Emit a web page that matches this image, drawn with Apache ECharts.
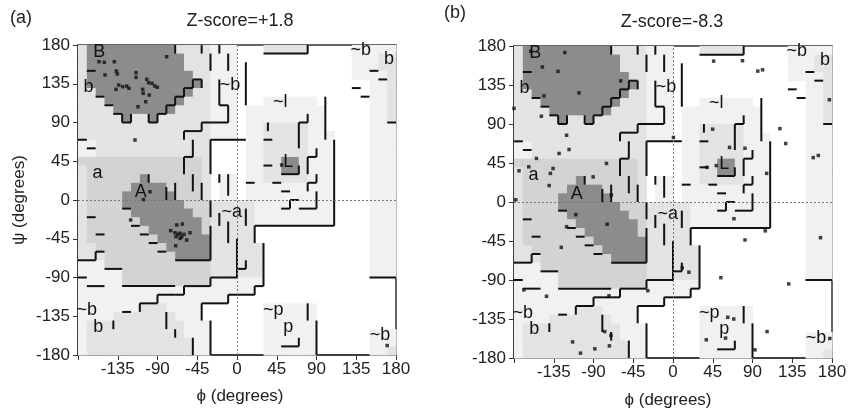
<!DOCTYPE html>
<html>
<head>
<meta charset="utf-8">
<script src="https://cdn.jsdelivr.net/npm/echarts@6/dist/echarts.min.js"></script>
<style>
  html, body { margin: 0; background: #fff; }
  #chart { width: 854px; height: 414px; }
</style>
</head>
<body>
<div id="chart"></div>
<script>
// Ramachandran region map, 10 degree cells.
// row 0 = psi 170..180 (top), col 0 = phi -180..-170
// 0 white, 1 generous, 2 allowed, 3 allowed (a), 4 core
var regionRows = [
  "244444444442222111000222220000011111",
  "244444444444222111000000000000011122",
  "244444444444222111000000000000011122",
  "244444444444422111000000000000011112",
  "244444444444442111000000000000000112",
  "224444444444422111000000000000000112",
  "222444444444222111000111111000000112",
  "222244444442222111011111111100000112",
  "222224224222222111011111111100000112",
  "222222222222222111011222221100000111",
  "222222222222222111011222221110000111",
  "112222222222222000011222221110000111",
  "112222222222222000011222221110000111",
  "333333333333332000011224421110000111",
  "233333333333332000011224421110000111",
  "233333343333332011011222221110000111",
  "233333444433332011011111111110000111",
  "233334444443332011011111111110000111",
  "233334444444333222221111111110000111",
  "233333444444433222221111111110000111",
  "233333344444443222221111111110000111",
  "233333334444443222220000000000000111",
  "233333333444444222220000000000000111",
  "223333333344444222222000000000000111",
  "222333333334444222222000000000000111",
  "111333333333333222222000000000000111",
  "111113333333333222222000000000000111",
  "111113333333333111111000000000000000",
  "111111111111111111110000000000000000",
  "111111111111111110000000000000000000",
  "111111122211110000000111111000000000",
  "111122222221110000000111111000000000",
  "122222222222111000000111111000000000",
  "122222222222111000000111111000000111",
  "122222222222211000000111111000000111",
  "122222222222211000000111111000000112"
];
var shades = ["#ffffff", "#f1f1f1", "#e3e3e3", "#d3d3d3", "#8c8c8c"];

// black contour segments [phi1, psi1, phi2, psi2]
var segments = [
  [-70,180,-70,170], [-40,180,-40,170], [-30,170,-30,150], [-20,180,-20,170], [-10,170,-10,150],
  [-170,150,-160,150], [-160,120,-150,120], [-150,110,-140,110], [-140,100,-130,100],
  [-130,100,-130,90], [-130,90,-120,90], [-120,90,-120,100],
  [-100,100,-100,90], [-100,90,-90,90], [-90,90,-90,100], [-90,100,-80,100], [-80,100,-80,110],
  [-80,110,-70,110], [-70,110,-70,120], [-70,120,-60,120], [-60,120,-60,130], [-60,130,-50,130],
  [-50,130,-50,140], [-50,140,-40,140], [-40,140,-40,130],
  [-20,140,-20,110], [-20,110,-10,110], [-10,110,-10,90], [-10,90,-40,90], [-40,90,-40,80],
  [-40,80,-60,80], [-60,80,-60,70],
  [-180,70,-170,70], [-170,60,-160,60],
  [-50,70,-50,50], [-60,50,-50,50], [-60,50,-60,30], [-50,30,-50,10],
  [-30,70,10,70], [-30,70,-30,30],
  [-100,30,-100,20], [-80,15,-80,0], [-70,20,-70,0], [-40,20,-40,0], [-20,30,-20,20], [-10,30,-10,5],
  [30,170,80,170], [80,180,80,170], [10,160,10,110], [35,90,35,80], [30,70,40,70],
  [70,90,80,90], [70,90,70,60], [80,100,80,90], [100,120,100,70], [110,70,110,-30],
  [30,40,40,40], [50,30,70,30], [70,40,70,30], [80,50,90,50], [80,50,80,30], [90,60,90,50],
  [10,20,20,20], [40,20,50,20], [50,10,60,10], [80,20,80,10], [80,20,90,20], [90,30,90,20],
  [90,10,90,-10], [50,-10,60,-10], [60,-10,60,0], [60,0,70,0], [70,-10,90,-10],
  [150,150,160,150], [160,140,170,140], [130,130,140,130], [140,120,150,120], [170,90,180,90],
  [20,-30,110,-30], [20,-30,20,-50], [30,-50,30,-100], [20,-100,30,-100], [20,-100,20,-110],
  [-10,-110,20,-110], [10,-10,10,-30], [0,-80,10,-80], [10,-80,10,-70], [0,-45,0,-80],
  [150,-90,180,-90], [80,-120,80,-140], [90,-140,90,-180], [50,-170,70,-170], [70,-160,70,-170],
  [-130,-10,-120,-10], [-170,-20,-160,-20], [-160,-40,-150,-40], [-120,-30,-110,-30], [-110,-40,-100,-40],
  [-100,-50,-90,-50], [-90,-60,-80,-60],
  [-70,-70,-30,-70], [-30,-30,-30,-70], [-30,0,-30,-20],
  [-180,-70,-160,-70], [-160,-70,-160,-60], [-160,-60,-150,-60], [-150,-80,-130,-80],
  [-180,-90,-170,-90], [-170,-100,-150,-100], [-130,-100,-70,-100],
  [-70,-110,-60,-110], [-60,-110,-60,-100], [-60,-100,-30,-100], [-30,-100,-30,-90], [-30,-90,0,-90], [0,-90,0,-80],
  [-40,-120,-10,-120], [-40,-120,-40,-140], [-10,-120,-10,-110],
  [-130,-130,-120,-130], [-110,-120,-90,-120], [-110,-120,-110,-130], [-90,-110,-90,-120], [-90,-110,-70,-110],
  [-140,-140,-140,-150], [-80,-130,-80,-150], [-70,-150,-70,-160], [-50,-160,-50,-180], [-30,-140,-30,-180],
  [-20,-15,-20,-30], [-10,-25,-10,-50]
];

// region labels [text, phi, psi]
var regionLabels = [
  ["B",-156,172], ["b",-168,131], ["~b",-8,133], ["~b",140,174], ["b",172,164],
  ["~l",49,114], ["L",58,44], ["a",-158,31], ["A",-109,9], ["~a",-6,-14],
  ["~b",-170,-128], ["b",-157,-147], ["~p",41,-128], ["p",58,-147], ["~b",162,-157]
];

// residues, panel (a)
var pointsA = [
  [-156.2,160.6],[-150.2,159.9],[-138.9,160.6],[-149.4,145.2],[-136.6,149.8],[-135.5,146.3],
  [-114.3,147.9],[-114.3,142.5],[-137,128.5],[-133.9,133.5],[-129.4,131.6],[-124.9,132.4],
  [-122.3,129.7],[-106.8,128.5],[-106.1,123.9],[-102.2,140.2],[-100,136.2],[-96.2,135.5],
  [-93.2,132.4],[-90.2,130.9],[-99.3,121.9],[-103.4,114.1],[-112.1,108.3],[-79.6,166.4],
  [-115.5,69.7],[-98.5,9.6],[-106,0.5],
  [-120.4,-23.2],[-68.3,-29],[-61.9,-27.9],[-75.1,-35.6],[-70.2,-38],[-67.1,-39.9],
  [-64.5,-38.7],[-62.6,-42.6],[-60,-39.9],[-57,-46.5],[-53.2,-38],[-69.1,-42.6],
  [-64.5,-44.5],[-69.4,-53.1],
  [50.6,40.6],[170,-169]
];
// residues, panel (b)
var pointsB = [
  [-161,174],[-122.5,172.4],[-147.9,155.8],[-130.2,150.8],[-59.2,139.7],[-146,122.4],[-106.4,125.9],
  [-180,108],[-149,99],[-120.5,77],[-117.7,60.6],[-129,56],[-154.6,50.3],[-163.3,40.6],
  [-174.3,36],[-135.8,38.7],[-138.8,33],[-140.2,19],[-90.4,29],[-75.3,44.5],[-69.8,8],[-178,2.5],
  [46,162.6],[78.7,163],[96,151],[101.4,152.5],[0.5,74.5],[44.9,84],[64,63],[81.5,62],
  [121,84.7],[127.6,67.5],[158.8,51.2],[164.5,53.7],[177,118],[38.5,40],[49,42],[106,33],
  [-110,-14.6],[-74.5,-25.6],[-120.5,-28.5],[-126.5,-52.3],[10.5,-76],[18,-81],[54.2,-87.3],
  [131,-94.5],[81.5,-43.8],[104.5,-33.3],[69,-19.3],[167,-41.2],[-168.8,-101.4],[-143.2,-108.8],
  [-72.5,-108.2],[-28.5,-102.3],[62,-133],[68.8,-135],[37.7,-159],[59.5,-157],[92.8,-170.6],
  [106.5,-149.5],[177.5,-157.5],[-113.7,-161.4],[-104.7,-174.4],[-88.5,-169.4],[-72,-166],
  [-70.3,-154],[-77.3,-149.5]
];

var axisTicks = [-180, -135, -90, -45, 0, 45, 90, 135, 180];
var titles = ["Z-score=+1.8", "Z-score=-8.3"];
var panelTags = ["(a)", "(b)"];

var FONT = "Liberation Sans, Arial, DejaVu Sans, sans-serif";

// build cells from the map
var cells = [];
regionRows.forEach(function (row, r) {
  for (var c = 0; c < row.length; c++) {
    var lv = +row[c];
    if (lv > 0) cells.push([-180 + 10 * c, 170 - 10 * r, lv]);
  }
});

function renderCell(params, api) {
  var p0 = api.coord([api.value(0), api.value(1) + 10]);
  var p1 = api.coord([api.value(0) + 10, api.value(1)]);
  return {
    type: "rect",
    shape: { x: p0[0], y: p0[1], width: p1[0] - p0[0] + 0.6, height: p1[1] - p0[1] + 0.6 },
    style: { fill: shades[api.value(2)] }
  };
}
function renderSeg(params, api) {
  var a = api.coord([api.value(0), api.value(1)]);
  var b = api.coord([api.value(2), api.value(3)]);
  return {
    type: "line",
    shape: { x1: a[0], y1: a[1], x2: b[0], y2: b[1] },
    style: { stroke: "#111", lineWidth: 2 }
  };
}
function renderLabel(params, api) {
  var p = api.coord([api.value(1), api.value(2)]);
  return {
    type: "text",
    x: p[0], y: p[1],
    style: {
      text: regionLabels[params.dataIndex][0],
      fill: "#111", font: "18px " + FONT,
      textAlign: "center", textVerticalAlign: "middle"
    }
  };
}

function panelSeries(i, pts) {
  return [
    { type: "custom", xAxisIndex: i, yAxisIndex: i, renderItem: renderCell, data: cells, z: 1, silent: true },
    {
      type: "custom", xAxisIndex: i, yAxisIndex: i, renderItem: renderSeg, data: segments, z: 3, silent: true,
      markLine: {
        silent: true, symbol: "none", label: { show: false },
        lineStyle: { color: "#777", width: 1, type: [2, 2] },
        data: [{ xAxis: 0 }, { yAxis: 0 }]
      }
    },
    {
      type: "custom", xAxisIndex: i, yAxisIndex: i, renderItem: renderLabel, z: 4, silent: true,
      data: regionLabels.map(function (l, k) { return [k, l[1], l[2]]; }),
      encode: { x: 1, y: 2 }
    },
    {
      type: "scatter", xAxisIndex: i, yAxisIndex: i, data: pts, z: 5, silent: true,
      symbol: "rect", symbolSize: 3.5, itemStyle: { color: "#111" }
    }
  ];
}

function xAxisFor(i) {
  return {
    gridIndex: i, type: "value", min: -180, max: 180, interval: 45,
    axisLine: { show: true, onZero: false, lineStyle: { color: "#333", width: 1.5 } },
    axisTick: { show: true, length: 5, lineStyle: { color: "#333" } },
    splitLine: { show: false },
    axisLabel: {
      fontSize: 17, color: "#222", fontFamily: FONT, margin: 6,
      formatter: function (v) { return v === axisTicks[0] ? "" : String(v); }
    }
  };
}
function yAxisFor(i) {
  return {
    gridIndex: i, type: "value", min: -180, max: 180, interval: 45,
    axisLine: { show: true, onZero: false, lineStyle: { color: "#333", width: 1.5 } },
    axisTick: { show: true, length: 5, lineStyle: { color: "#333" } },
    splitLine: { show: false },
    axisLabel: { fontSize: 17, color: "#222", fontFamily: FONT, margin: 8 }
  };
}

var chart = echarts.init(document.getElementById("chart"));
chart.setOption({
  animation: false,
  backgroundColor: "#fff",
  grid: [
    { left: 78, top: 45, width: 318, height: 310, show: true, borderColor: "#333", borderWidth: 1.5, backgroundColor: "#fff" },
    { left: 514, top: 46, width: 318, height: 312, show: true, borderColor: "#333", borderWidth: 1.5, backgroundColor: "#fff" }
  ],
  xAxis: [xAxisFor(0), xAxisFor(1)],
  yAxis: [yAxisFor(0), yAxisFor(1)],
  series: panelSeries(0, pointsA).concat(panelSeries(1, pointsB)),
  graphic: [
    { type: "text", left: 10, top: 9, style: { text: panelTags[0], font: "18px " + FONT, fill: "#222" } },
    { type: "text", left: 444, top: 4, style: { text: panelTags[1], font: "18px " + FONT, fill: "#222" } },
    { type: "text", x: 240, y: 21, style: { text: titles[0], font: "18px " + FONT, fill: "#222", textAlign: "center", textVerticalAlign: "middle" } },
    { type: "text", x: 672, y: 22, style: { text: titles[1], font: "18px " + FONT, fill: "#222", textAlign: "center", textVerticalAlign: "middle" } },
    { type: "text", x: 19, y: 200, rotation: Math.PI / 2, style: { text: "ψ (degrees)", font: "17px " + FONT, fill: "#222", textAlign: "center", textVerticalAlign: "middle" } },
    { type: "text", x: 240, y: 396, style: { text: "ϕ (degrees)", font: "17px " + FONT, fill: "#222", textAlign: "center", textVerticalAlign: "middle" } },
    { type: "text", x: 668, y: 400, style: { text: "ϕ (degrees)", font: "17px " + FONT, fill: "#222", textAlign: "center", textVerticalAlign: "middle" } }
  ]
});
</script>
</body>
</html>
